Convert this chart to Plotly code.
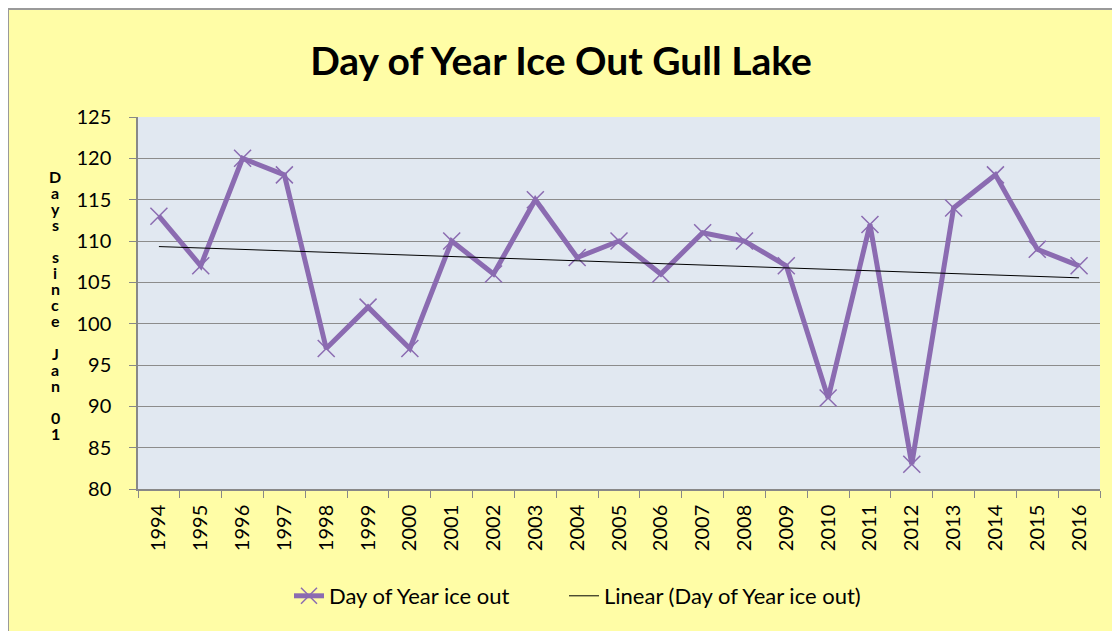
import numpy as np
import plotly.graph_objects as go

years = [str(y) for y in range(1994, 2017)]
ice_out = [113, 107, 120, 118, 97, 102, 97, 110, 106, 115, 108, 110, 106,
           111, 110, 107, 91, 112, 83, 114, 118, 109, 107]
y_ticks = [80, 85, 90, 95, 100, 105, 110, 115, 120, 125]
title_text = "Day of Year Ice Out Gull Lake"
y_label = "Days since Jan 01"
series_name = "Day of Year ice out"
trend_name = "Linear (Day of Year ice out)"

# linear trend fitted to the data
idx = np.arange(len(ice_out))
slope, intercept = np.polyfit(idx, ice_out, 1)
trend = (slope * idx + intercept).tolist()

OFF = 8  # page body margin
W, H = 1120 - OFF, 631 - OFF
L, T = 138 - OFF, 117 - OFF
R = W - (1100 - OFF)
B = H - (489 - OFF)
pw, ph = W - L - R, H - T - B


def fx(sx):
    return (sx - OFF - L) / pw


def fy(sy):
    return (H - B - (sy - OFF)) / ph


FONT = "Lato, 'Open Sans', sans-serif"
PURPLE = "#8B6BB1"

fig = go.Figure()
fig.add_trace(go.Scatter(
    x=years, y=ice_out, name=series_name, mode="lines+markers",
    line=dict(color=PURPLE, width=5),
    marker=dict(symbol="x-thin", size=17, line=dict(color=PURPLE, width=1.5), color=PURPLE),
    legend="legend",
))
fig.add_trace(go.Scatter(
    x=years, y=trend, name=trend_name, mode="lines",
    line=dict(color="black", width=1),
    legend="legend2",
))

# stacked vertical axis label: one annotation per character
annotations = []
step = 16.1
row = 0
for i, word in enumerate(y_label.split(" ")):
    if i:
        row += 1
    for ch in word:
        annotations.append(dict(
            text="<b>" + ch + "</b>", xref="paper", yref="paper",
            x=fx(55), y=fy(176 + row * step), xanchor="center", yanchor="middle",
            showarrow=False, font=dict(size=16, family=FONT, color="black")))
        row += 1

legend_common = dict(orientation="h", xanchor="left", yanchor="middle",
                     bgcolor="rgba(0,0,0,0)", font=dict(size=22, family=FONT))

fig.update_layout(
    width=W, height=H,
    margin=dict(l=L, r=R, t=T, b=B, autoexpand=False),
    paper_bgcolor="#FFFDA6",
    plot_bgcolor="#E1E8F1",
    font=dict(family=FONT, size=16, color="black"),
    title=dict(text="<b>" + title_text + "</b>", font=dict(size=39, family=FONT),
               xref="container", x=(561 - OFF) / W, xanchor="center",
               yref="container", y=1 - (61 - OFF) / H, yanchor="middle"),
    showlegend=True,
    legend=dict(x=fx(289), y=fy(596), **legend_common),
    legend2=dict(x=fx(564), y=fy(596), **legend_common),
    shapes=[dict(type="rect", xref="paper", yref="paper", layer="below",
                 x0=fx(8), x1=fx(1200), y0=fy(700), y1=fy(9),
                 fillcolor="rgba(0,0,0,0)", line=dict(color="#9A9A9A", width=2))],
    annotations=annotations,
)
fig.update_xaxes(
    type="category", range=[-0.5, len(years) - 0.5],
    tickangle=-90, ticks="outside", tickson="boundaries", ticklen=7,
    tickcolor="#888888", showline=True, linecolor="#888888", linewidth=1.5,
    showgrid=False, tickfont=dict(size=20, family=FONT), ticklabelstandoff=6,
)
fig.update_yaxes(
    range=[80, 125], tickvals=y_ticks, ticks="outside", ticklen=7,
    tickcolor="#888888", showline=True, linecolor="#888888", linewidth=1.5,
    showgrid=True, gridcolor="#8C8C8C", gridwidth=1, zeroline=False,
    tickfont=dict(size=20, family=FONT), ticklabelstandoff=14,
)

fig.write_html("out.html")
